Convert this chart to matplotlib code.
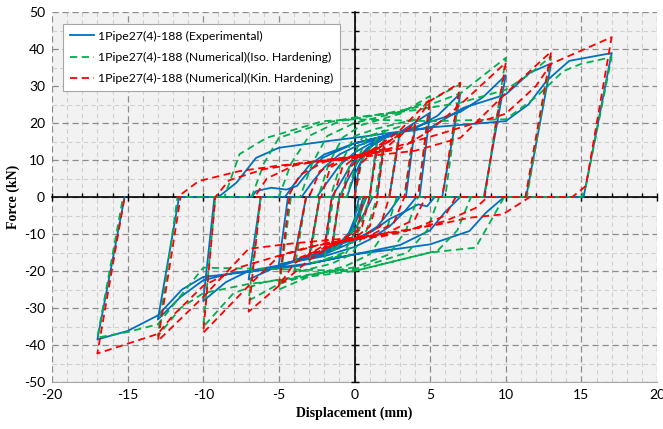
import matplotlib
matplotlib.use("Agg")
import matplotlib.pyplot as plt
from matplotlib.ticker import MultipleLocator

plt.rcParams["axes.unicode_minus"] = False

# ---------------- data ----------------
labels = ["1Pipe27(4)-188 (Experimental)",
          "1Pipe27(4)-188 (Numerical)(Iso. Hardening)",
          "1Pipe27(4)-188 (Numerical)(Kin. Hardening)"]

x_ticks = [-20, -15, -10, -5, 0, 5, 10, 15, 20]
y_ticks = [-50, -40, -30, -20, -10, 0, 10, 20, 30, 40, 50]

# Experimental (displacement mm, force kN)
exp_x = [0, 0.3, 0.8, 1.5, 1.0, 0.3, 0.0, -0.5, -1.5, -1.0,
         -0.5, 0, 0.6, 1.2, 2, 1.5, 0.6, 0.2, -0.3, -1, -2, -1.5,
         -1.0, -0.4, 0.3, 1.2, 2, 3, 2.3, 0.8, 0.4, -0.2, -1, -2, -3, -2.3,
         -1.5, -0.9, -0.2, 0.8, 2, 4, 3.4, 1.2, 0.7, 0, -1, -2.5, -4, -3.2,
         -2.5, -1.8, -1, 0, 1.5, 3, 5, 4.3, 3.0, 2.3, 1.5, 0, -2, -3.5, -5, -4.4,
         -3.5, -2.8, -2, -1, 0, 2, 4, 5.5, 7, 5.8, 4.1, 3.3, 2.3, 1, 0, -2, -4, -5.5, -7, -6.2,
         -4.6, -3.9, -3, -2, 0, 3, 5, 7, 8.5, 10, 8.55, 5.3, 4.8, 4.2, 3.4, 2.3, 1.2, 0, -1, -3, -5, -7, -8.5, -10, -9.26,
         -6.8, -6.5, -5.5, -4.5, -3.8, -3.2, -2.1, 0, 3, 5, 7.2, 10, 11.6, 13, 11.35, 7.0, 6, 5, 3, 0, -3, -6, -8, -10, -11.5, -13, -11.6,
         -9.0, -7.8, -6.5, -5, -2, 0, 5, 10, 11.5, 12.7, 14.2, 17, 15.15, 9.9, 8.7, 7.6, 5, 3.4, 0, -3.5, -7.6, -10, -11.4, -13, -15, -17, -15.2]
exp_f = [0, 8, 13, 15, 0, 0, -6, -11, -14, 0,
         0, 6, 11, 14.5, 16.5, 0, 0, -5, -10, -13.5, -15, 0,
         0, 5, 10, 14, 16, 17.5, 0, 0, -4, -9, -12.5, -15, -16, 0,
         0, 4, 9, 13, 16, 18.7, 0, 0, -4, -9, -12.5, -15.5, -17, 0,
         0, 4, 8.5, 12, 15.5, 17.5, 22.8, 0, 0, -4, -8, -12, -15.5, -17, -18.2, 0,
         0, 4, 8, 11.5, 13.5, 16.5, 18.5, 22, 28, 0, 0, -4, -8, -11.5, -13.5, -16, -17.5, -19.5, -22.3, 0,
         0, 4, 8.5, 11.5, 14.5, 17.5, 20.3, 23, 27, 32.9, 0, 0, -2.5, -2, -3.8, -6, -9.2, -11.5, -12.8, -16, -18.5, -20, -23, -28.1, 0,
         0, 1.6, 2.5, 2, 3, 6.1, 10.6, 14.5, 17.5, 18.7, 24.1, 27.7, 33.6, 36.1, 0, 0, -4, -9, -13, -15.5, -18, -19.5, -20.5, -22.5, -27, -33.1, 0,
         0, 3.9, 10.6, 13.3, 15, 16, 18.8, 20.5, 25, 31.4, 36.8, 38.9, 0, 0, -4.2, -9.2, -12.8, -13.7, -15.5, -18.5, -20.5, -21.6, -25, -32, -36.2, -38.5, 0]

# Numerical, isotropic hardening
iso_x = [0, 0.5, 1.5, 1.0, 0.4, -0.1, -1.5, -1.0,
         -0.5, 0.1, 0.8, 2, 1.4, 0.7, 0.1, -0.7, -2, -1.4,
         -0.9, -0.3, 0.5, 3, 2.3, 1.0, 0.3, -0.6, -3, -2.3,
         -1.6, -0.9, 0, 1.5, 4, 3.3, 1.5, 0.8, -0.2, -1.5, -4, -3.2,
         -2.4, -1.7, -0.8, 0.5, 3, 5, 4.2, 2.8, 2.1, 1, -0.5, -3, -5, -4.2,
         -3.6, -2.8, -1.8, 0, 3, 5, 7, 6, 4.2, 3.4, 2.3, 0, -3, -5, -7, -6.2,
         -5.0, -4.2, -3, -1, 2, 5, 7, 10, 8.6, 5.6, 4.8, 3.5, 0, -3, -6, -8, -10, -9.2,
         -6.8, -6, -5, -2, 0, 4, 7, 10, 11.5, 13, 11.4, 7.7, 6.8, 5.5, 3, 0, -4, -7, -10, -11.5, -13, -11.7,
         -8.6, -7.6, -5.8, -2.1, 0, 5, 10, 12, 13.8, 15, 17, 15.3, 15.0, 9.9, 8.8, 8, 5, 0, -5, -10, -13, -15, -17, -15.3]
iso_f = [0, 10, 16, 0, 0, -9, -15, 0,
         0, 9, 16, 18, 0, 0, -9, -15, -17, 0,
         0, 9, 16, 19, 0, 0, -9, -15.5, -18, 0,
         0, 9, 16.5, 18.5, 21, 0, 0, -9, -15.5, -18, -20.5, 0,
         0, 9, 16, 19.5, 22.5, 27.3, 0, 0, -9, -15.5, -18.5, -21.5, -25, 0,
         0, 9, 16.5, 20, 23, 26, 30.5, 0, 0, -9, -15.5, -19, -21, -23.5, -28, 0,
         0, 9, 16.5, 20.5, 22.5, 25, 28, 37.6, 0, 0, -9, -15, -19.5, -21, -23, -26, -35.1, 0,
         0, 9, 16, 20, 21.5, 23.5, 25.5, 29, 33, 38, 0, 0, -9, -14.5, -17, -20, -22, -23.5, -26, -30, -37.6, 0,
         0, 11.6, 16, 20.5, 21, 20.5, 21, 27, 34, 36, 37.8, 3, 0, 0, -8, -13.7, -15, -20, -19.5, -19.1, -34.4, -36.5, -38, 0]

# Numerical, kinematic hardening
kin_x = [0, 0.4, 1.5, 1.0, 0.6, 0.2, -1.5, -1.0,
         -0.8, -0.3, 0.5, 2, 1.5, 1.0, 0.5, -0.3, -2, -1.5,
         -1.4, -0.8, 0, 1.5, 3, 2.3, 1.6, 1.0, 0.2, -1.5, -3, -2.3,
         -2.2, -1.6, -0.5, 1.5, 4, 3.3, 2.3, 1.7, 0.5, -1.5, -4, -3.2,
         -3.0, -2.3, -1, 1, 3, 5, 4.2, 3.3, 2.6, 1, -1, -3, -5, -4.3,
         -4.4, -3.6, -2, 0, 2, 4, 5, 7, 5.8, 4.7, 4, 2, 0, -2, -4, -5, -7, -6.2,
         -6.6, -5.8, -4, -2, 0, 3, 5, 7, 10, 8.6, 6.7, 6, 4, 2, 0, -2, -5, -7, -10, -9.2,
         -9.2, -8.3, -6, -3, 0, 4, 7, 10, 13, 11.3, 8.8, 8, 6, 3, 0, -4, -7, -10, -13, -11.5,
         -11.7, -10.3, -7.6, -5, 0, 2.5, 5.6, 8, 10, 12, 13, 17, 15.3, 14.4, 11.6, 9.8, 7.6, 5.6, 0, -3.2, -7.6, -10, -12, -13, -17, -15.2]
kin_f = [0, 9, 13, 0, 0, -9, -13, 0,
         0, 8, 11, 15, 0, 0, -8, -11, -14, 0,
         0, 8, 10.5, 13, 17, 0, 0, -8, -10.5, -13, -16, 0,
         0, 8, 10.5, 13, 19.5, 0, 0, -8, -10.5, -13, -17, 0,
         0, 7, 10, 12, 18, 26.4, 0, 0, -7, -10.5, -12, -17, -24, 0,
         0, 6, 9.5, 11, 13, 20, 26, 30.9, 0, 0, -6, -10, -11.5, -13, -18, -24, -31, 0,
         0, 5, 8.5, 10, 11, 13, 18, 25, 36.3, 0, 0, -5, -8.5, -10.5, -11.5, -12.5, -16, -24, -36.7, 0,
         0, 4.5, 7.5, 9.5, 10.6, 12.5, 16, 28, 39.3, 0, 0, -3, -6.5, -9.5, -11, -12.5, -14, -27, -38.9, 0,
         0, 4.3, 7, 8.5, 10.5, 13.3, 17, 20, 22.5, 30, 36, 43.2, 3, 0, 0, -4.7, -5.6, -7.4, -11.2, -13.7, -19, -24, -32, -37, -42.3, 0]

# ---------------- figure ----------------
fig = plt.figure(figsize=(6.63, 4.29), dpi=100)
pos = [52 / 663, 1 - 382 / 429, 605 / 663, 370 / 429]

# background axes: face colour, grid, outer tick labels
ax0 = fig.add_axes(pos)
ax0.set_facecolor("#f2f2f2")
ax0.set_xlim(-20, 20)
ax0.set_ylim(-50, 50)
ax0.set_xticks(x_ticks)
ax0.set_yticks(y_ticks)
ax0.xaxis.set_minor_locator(MultipleLocator(1))
ax0.yaxis.set_minor_locator(MultipleLocator(5))
ax0.grid(which="major", color="#8c8c8c", linestyle=(0, (5, 3)), linewidth=0.9)
ax0.grid(which="minor", color="#cfcfcf", linestyle=(0, (4, 3)), linewidth=0.8)
ax0.tick_params(which="both", length=0, labelsize=10, pad=5)
for lab in ax0.get_xticklabels() + ax0.get_yticklabels():
    lab.set_family("Lato")
for s in ax0.spines.values():
    s.set_visible(False)
ax0.spines["bottom"].set_visible(True)
ax0.spines["bottom"].set_color("#a6a6a6")
ax0.set_xlabel("Displacement (mm)", family="Liberation Serif", fontweight="bold",
               fontsize=10, labelpad=4)
ax0.set_ylabel("Force (kN)", family="Liberation Serif", fontweight="bold",
               fontsize=10, labelpad=3)

# data axes: black axes through the origin
ax = fig.add_axes(pos)
ax.set_facecolor("none")
ax.set_xlim(-20, 20)
ax.set_ylim(-50, 50)
for s in ["top", "right"]:
    ax.spines[s].set_visible(False)
ax.spines["left"].set_position("zero")
ax.spines["bottom"].set_position("zero")
ax.spines["left"].set_color("black")
ax.spines["bottom"].set_color("black")
ax.spines["left"].set_linewidth(1.2)
ax.spines["bottom"].set_linewidth(1.2)
ax.xaxis.set_major_locator(MultipleLocator(5))
ax.xaxis.set_minor_locator(MultipleLocator(1))
ax.yaxis.set_major_locator(MultipleLocator(10))
ax.yaxis.set_minor_locator(MultipleLocator(5))
ax.tick_params(axis="x", which="major", direction="inout", length=6, width=1, labelbottom=False)
ax.tick_params(axis="x", which="minor", direction="in", length=3, width=1)
ax.tick_params(axis="y", which="major", direction="inout", length=6, width=1, labelleft=False)
ax.tick_params(axis="y", which="minor", direction="in", length=3, width=1)

dash = (0, (4, 2.5))
ax.plot(exp_x, exp_f, color="#0070c0", lw=1.3, zorder=3, label=labels[0])
ax.plot(iso_x, iso_f, color="#00b050", lw=1.3, ls=dash, zorder=4, label=labels[1])
ax.plot(kin_x, kin_f, color="#ff0000", lw=1.3, ls=dash, zorder=5, label=labels[2])

leg = ax.legend(loc="upper left", bbox_to_anchor=(0.018, 0.968), frameon=True,
                fancybox=False, framealpha=1, edgecolor="#a6a6a6",
                prop={"family": "Lato", "size": 8.8}, handlelength=2.0,
                handletextpad=0.3, labelspacing=0.85, borderpad=0.55,
                borderaxespad=0)
leg.get_frame().set_linewidth(0.8)
leg.set_zorder(10)

fig.savefig("out.png", dpi=100)
